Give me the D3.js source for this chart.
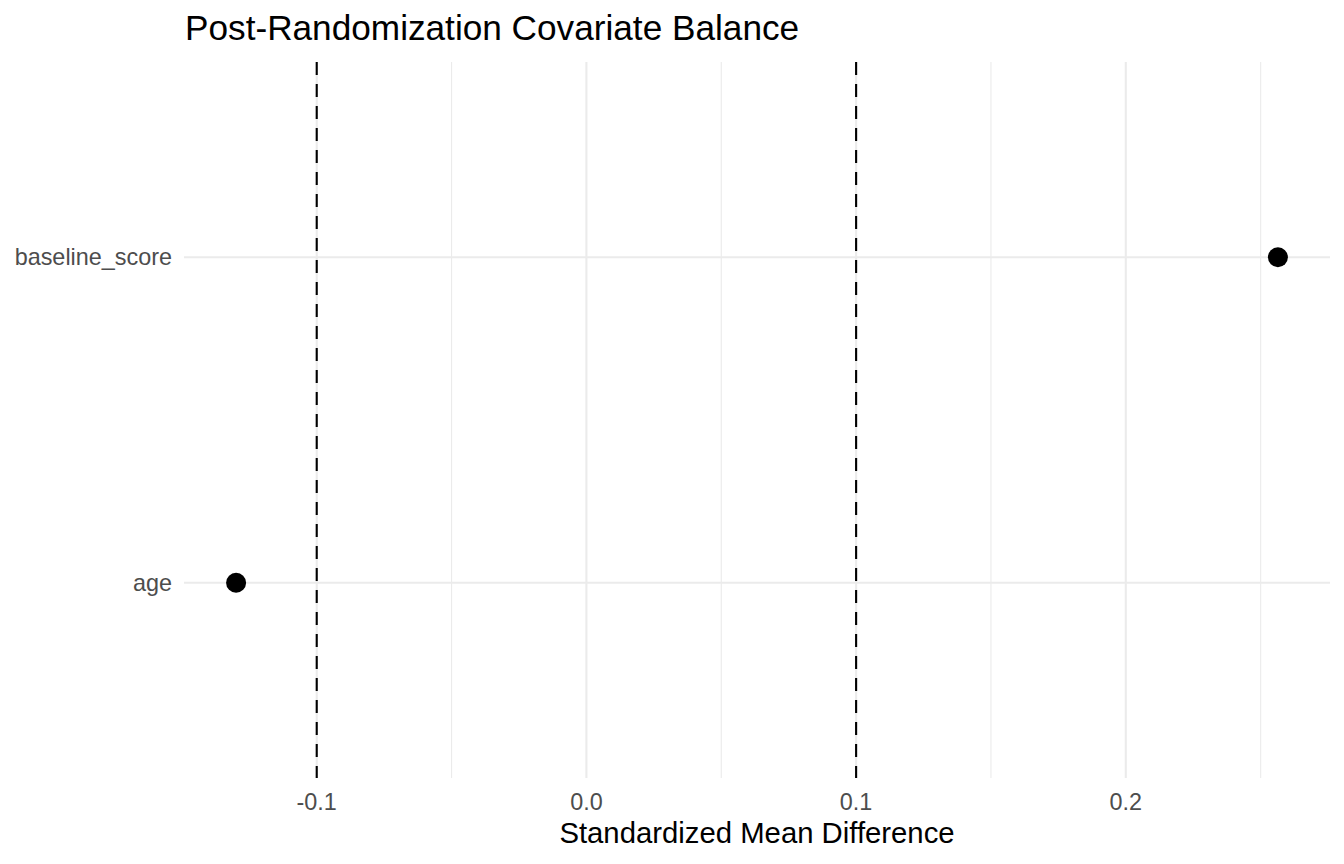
<!DOCTYPE html>
<html>
<head>
<meta charset="utf-8">
<script src="https://cdn.jsdelivr.net/npm/d3@7"></script>
<style>
  body { margin: 0; background: #fff; }
  text { font-family: "Liberation Sans", Arial, Helvetica, sans-serif; }
</style>
</head>
<body>
<div id="chart"></div>
<script>
// data
const covariates = ['age', 'baseline_score'];
const smdValues = [-0.1299, 0.2564];
const thresholds = [-0.1, 0.1];
const majorTicks = [-0.1, 0.0, 0.1, 0.2];
const minorTicks = [-0.15, -0.05, 0.05, 0.15, 0.25];
const chartTitle = 'Post-Randomization Covariate Balance';
const xTitle = 'Standardized Mean Difference';

const width = 1344, height = 864;
const margin = { top: 62, right: 14, bottom: 86, left: 184 };
const pw = width - margin.left - margin.right;
const ph = height - margin.top - margin.bottom;

const svg = d3.select('#chart')
  .append('svg')
  .attr('width', width)
  .attr('height', height);

// ggplot-like 5% expansion
const ext = d3.extent(smdValues);
const pad = (ext[1] - ext[0]) * 0.05;
const x = d3.scaleLinear()
  .domain([ext[0] - pad, ext[1] + pad])
  .range([0, pw]);

// discrete scale with 0.6 expansion each side
const y = d3.scaleLinear()
  .domain([1 - 0.6, covariates.length + 0.6])
  .range([ph, 0]);

const g = svg.append('g')
  .attr('transform', `translate(${margin.left},${margin.top})`);

// minor grid
g.append('g')
  .selectAll('line')
  .data(minorTicks.filter(t => t >= x.domain()[0] && t <= x.domain()[1]))
  .join('line')
  .attr('x1', d => x(d)).attr('x2', d => x(d))
  .attr('y1', 0).attr('y2', ph)
  .attr('stroke', '#ebebeb')
  .attr('stroke-width', 1.1);

// major grid
g.append('g')
  .selectAll('line')
  .data(majorTicks)
  .join('line')
  .attr('x1', d => x(d)).attr('x2', d => x(d))
  .attr('y1', 0).attr('y2', ph)
  .attr('stroke', '#ebebeb')
  .attr('stroke-width', 2.1);

g.append('g')
  .selectAll('line')
  .data(covariates)
  .join('line')
  .attr('x1', 0).attr('x2', pw)
  .attr('y1', (d, i) => y(i + 1)).attr('y2', (d, i) => y(i + 1))
  .attr('stroke', '#ebebeb')
  .attr('stroke-width', 2.1);

// threshold lines
g.append('g')
  .selectAll('line')
  .data(thresholds)
  .join('line')
  .attr('x1', d => x(d)).attr('x2', d => x(d))
  .attr('y1', 0).attr('y2', ph)
  .attr('stroke', '#000')
  .attr('stroke-width', 2.1)
  .attr('stroke-dasharray', '13,9');

// points
g.append('g')
  .selectAll('circle')
  .data(smdValues)
  .join('circle')
  .attr('cx', d => x(d))
  .attr('cy', (d, i) => y(i + 1))
  .attr('r', 10)
  .attr('fill', '#000');

// x tick labels (plain hyphen, like R)
const fmt = d => d3.format('.1f')(d).replace('\u2212', '-');
g.append('g')
  .selectAll('text')
  .data(majorTicks)
  .join('text')
  .attr('x', d => x(d))
  .attr('y', ph + 32)
  .attr('text-anchor', 'middle')
  .attr('font-size', '23.4px')
  .attr('fill', '#4d4d4d')
  .text(fmt);

// y tick labels
g.append('g')
  .selectAll('text')
  .data(covariates)
  .join('text')
  .attr('x', -12)
  .attr('y', (d, i) => y(i + 1))
  .attr('dy', '0.35em')
  .attr('text-anchor', 'end')
  .attr('font-size', '23.4px')
  .attr('fill', '#4d4d4d')
  .text(d => d);

// axis title
svg.append('text')
  .attr('x', margin.left + pw / 2)
  .attr('y', 843)
  .attr('text-anchor', 'middle')
  .attr('font-size', '29.3px')
  .attr('fill', '#000')
  .text(xTitle);

// title
svg.append('text')
  .attr('x', margin.left + 1)
  .attr('y', 40)
  .attr('font-size', '35.2px')
  .attr('fill', '#000')
  .text(chartTitle);
</script>
</body>
</html>
